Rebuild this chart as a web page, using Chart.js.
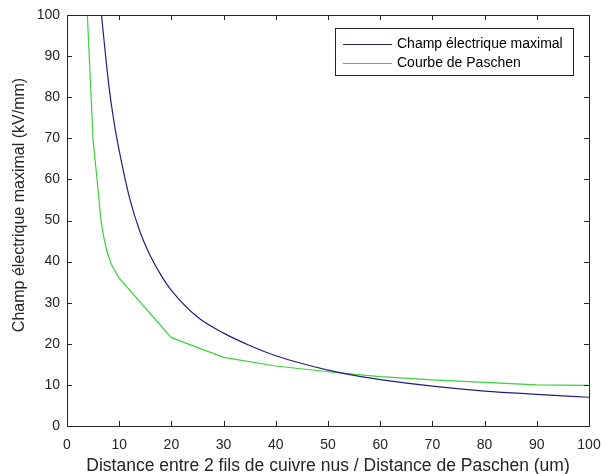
<!DOCTYPE html>
<html>
<head>
<meta charset="utf-8">
<script src="https://cdn.jsdelivr.net/npm/chart.js@4.4.1/dist/chart.umd.min.js"></script>
<style>
  html, body { margin: 0; padding: 0; background: #fff; }
  #wrap { width: 604px; height: 474px; position: relative; }
</style>
</head>
<body>
<div id="wrap"><canvas id="chart" width="604" height="474"></canvas></div>
<script>
// Champ électrique maximal
const champX = [6.6, 7, 8, 9, 10, 12, 14, 16, 18, 20, 25, 30, 35, 40, 45, 50, 55, 60, 70, 80, 90, 100];
const champY = [100, 95, 83, 74, 67, 55.4, 47.2, 41.3, 36.7, 33, 26.5, 22.6, 19.6, 17.1, 15.2, 13.6, 12.3, 11.3, 9.7, 8.5, 7.7, 7.0];

// Courbe de Paschen
const paschenX = [3.9, 5, 5.8, 6.5, 7.0, 7.6, 8.5, 10, 20, 30, 40, 50, 60, 70, 80, 90, 100];
const paschenY = [100, 69.5, 59.5, 50, 46.2, 42.7, 39.3, 36, 21.5, 16.7, 14.6, 13.2, 12.0, 11.2, 10.6, 10.0, 9.9];

const xTicks = [0, 10, 20, 30, 40, 50, 60, 70, 80, 90, 100];
const yTicks = [0, 10, 20, 30, 40, 50, 60, 70, 80, 90, 100];

const AXIS = '#262626';
const FONT = '"Liberation Sans", Arial, sans-serif';

const toPoints = (xs, ys) => xs.map((x, i) => ({ x: x, y: ys[i] }));

// MATLAB style box, inward ticks, legend box and y title
const matlabBox = {
    id: 'matlabBox',
    afterDatasetsDraw(chart) {
        const { ctx, chartArea: a, scales: { x, y } } = chart;
        ctx.save();
        ctx.strokeStyle = AXIS;
        ctx.lineWidth = 1;
        ctx.beginPath();
        x.ticks.forEach(t => {
            const px = Math.round(x.getPixelForValue(t.value)) + 0.5;
            ctx.moveTo(px, a.bottom); ctx.lineTo(px, a.bottom - 5);
            ctx.moveTo(px, a.top); ctx.lineTo(px, a.top + 5);
        });
        y.ticks.forEach(t => {
            const py = Math.round(y.getPixelForValue(t.value)) + 0.5;
            ctx.moveTo(a.left, py); ctx.lineTo(a.left + 5, py);
            ctx.moveTo(a.right, py); ctx.lineTo(a.right - 5, py);
        });
        ctx.stroke();
        ctx.strokeRect(Math.round(a.left) + 0.5, Math.round(a.top) + 0.5,
                       Math.round(a.width), Math.round(a.height));

        // legend
        const lx = 335, ly = 28, lw = 238, lh = 47;
        ctx.fillStyle = '#fff';
        ctx.fillRect(lx, ly, lw, lh);
        ctx.strokeRect(lx + 0.5, ly + 0.5, lw, lh);
        ctx.font = '14px ' + FONT;
        ctx.textBaseline = 'middle';
        chart.data.datasets.forEach((ds, i) => {
            const rowY = ly + 16 + i * 19;
            ctx.strokeStyle = ds.borderColor;
            ctx.beginPath();
            ctx.moveTo(lx + 8, rowY + 0.5);
            ctx.lineTo(lx + 57, rowY + 0.5);
            ctx.stroke();
            ctx.fillStyle = '#000';
            ctx.fillText(ds.label, lx + 62, rowY);
        });

        // y axis title
        ctx.translate(20, 205);
        ctx.rotate(-Math.PI / 2);
        ctx.textAlign = 'center';
        ctx.fillStyle = AXIS;
        ctx.font = '16px ' + FONT;
        ctx.fillText('Champ électrique maximal (kV/mm)', 0, 0);
        ctx.restore();
    }
};

new Chart(document.getElementById('chart'), {
    type: 'line',
    data: {
        datasets: [
            {
                label: 'Champ électrique maximal',
                data: toPoints(champX, champY),
                borderColor: '#22227e',
                borderWidth: 1.2,
                pointRadius: 0,
                cubicInterpolationMode: 'monotone',
                fill: false
            },
            {
                label: 'Courbe de Paschen',
                data: toPoints(paschenX, paschenY),
                borderColor: '#3ad23a',
                borderWidth: 1.2,
                pointRadius: 0,
                tension: 0,
                fill: false
            }
        ]
    },
    options: {
        responsive: false,
        animation: false,
        layout: { padding: { top: 15, right: 15, left: 0, bottom: 0 } },
        plugins: {
            legend: { display: false },
            tooltip: { enabled: false }
        },
        scales: {
            x: {
                type: 'linear',
                min: 0, max: 100,
                afterBuildTicks: (s) => { s.ticks = xTicks.map(v => ({ value: v })); },
                afterFit: (s) => { s.height = 48; s.paddingLeft = 0; s.paddingRight = 0; },
                grid: { display: false, drawTicks: false },
                border: { display: false },
                ticks: { color: AXIS, font: { family: FONT, size: 14 }, padding: 11, maxRotation: 0 },
                title: {
                    display: true,
                    text: 'Distance entre 2 fils de cuivre nus / Distance de Paschen (um)',
                    color: AXIS,
                    font: { family: FONT, size: 17.5 },
                    padding: { top: 4, bottom: -3 }
                }
            },
            y: {
                type: 'linear',
                min: 0, max: 100,
                afterBuildTicks: (s) => { s.ticks = yTicks.map(v => ({ value: v })); },
                afterFit: (s) => { s.width = 67; s.paddingTop = 0; s.paddingBottom = 0; },
                grid: { display: false, drawTicks: false },
                border: { display: false },
                ticks: { color: AXIS, font: { family: FONT, size: 14 }, padding: 7 }
            }
        }
    },
    plugins: [matlabBox]
});
</script>
</body>
</html>
